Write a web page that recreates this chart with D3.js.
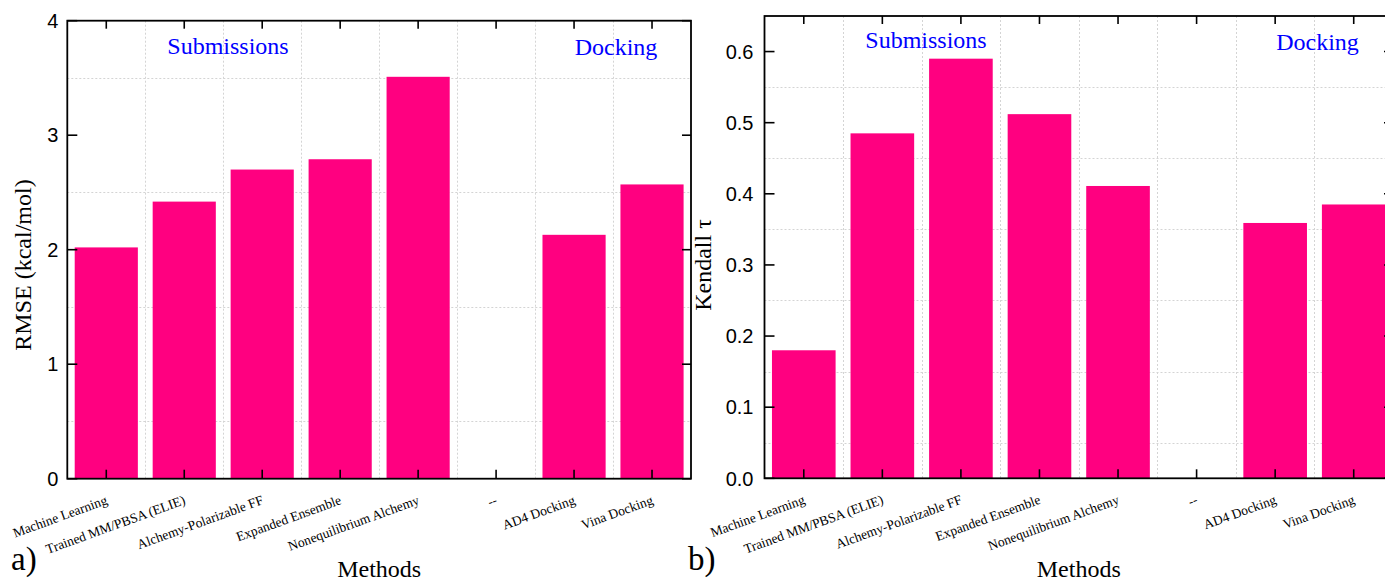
<!DOCTYPE html>
<html>
<head>
<meta charset="utf-8">
<script src="https://cdn.jsdelivr.net/npm/d3@7/dist/d3.min.js"></script>
<style>
  html, body { margin: 0; padding: 0; background: #ffffff; }
  svg { display: block; }
  .serif { font-family: "Liberation Serif", "Times New Roman", "DejaVu Serif", serif; }
  .sans { font-family: "Liberation Sans", Arial, "DejaVu Sans", sans-serif; }
</style>
</head>
<body>
<svg id="chart" width="1385" height="583"></svg>
<script>
// Method categories shared by both panels ("--" is an empty spacer slot)
const categories = [
  "Machine Learning",
  "Trained MM/PBSA (ELIE)",
  "Alchemy-Polarizable FF",
  "Expanded Ensemble",
  "Nonequilibrium Alchemy",
  "--",
  "AD4 Docking",
  "Vina Docking"
];

// Panel a: RMSE (kcal/mol) per method
const rmseValues = [2.02, 2.42, 2.70, 2.79, 3.51, null, 2.13, 2.57];
const rmseTicks = [0, 1, 2, 3, 4];
const rmseTickLabels = ["0", "1", "2", "3", "4"];
const rmseMinor = [0.5, 1.5, 2.5, 3.5];

// Panel b: Kendall tau per method
const kendallValues = [0.18, 0.485, 0.59, 0.512, 0.411, null, 0.359, 0.385];
const kendallTicks = [0, 0.1, 0.2, 0.3, 0.4, 0.5, 0.6];
const kendallTickLabels = ["0.0", "0.1", "0.2", "0.3", "0.4", "0.5", "0.6"];
const kendallMinor = [0.05, 0.15, 0.25, 0.35, 0.45, 0.55];

const BAR_COLOR = "#ff0080";

const svg = d3.select("#chart");

function drawPanel(cfg) {
  const g = svg.append("g");
  const x = d3.scaleBand()
    .domain(categories)
    .range([cfg.left, cfg.right])
    .paddingInner(0.19)
    .paddingOuter(0.095);
  const y = d3.scaleLinear().domain(cfg.domain).range([cfg.bottom, cfg.top]);
  const step = x.step();
  const center = c => x(c) + x.bandwidth() / 2;

  // dotted grid: vertical at slot boundaries, horizontal at half steps
  const grid = g.append("g")
    .attr("stroke", "#d4d4d4")
    .attr("stroke-width", 1)
    .attr("stroke-dasharray", "2,2");
  d3.range(1, categories.length).forEach(i => {
    const gx = Math.round(cfg.left + i * step) + 0.5;
    grid.append("line")
      .attr("x1", gx).attr("x2", gx)
      .attr("y1", cfg.top).attr("y2", cfg.bottom);
  });
  cfg.minor.forEach(v => {
    const gy = Math.round(y(v)) + 0.5;
    grid.append("line")
      .attr("x1", cfg.left).attr("x2", cfg.right)
      .attr("y1", gy).attr("y2", gy);
  });

  // bars
  g.append("g").selectAll("rect")
    .data(categories.map((c, i) => ({ c, v: cfg.values[i] })).filter(d => d.v != null))
    .join("rect")
    .attr("x", d => x(d.c))
    .attr("width", x.bandwidth())
    .attr("y", d => y(d.v))
    .attr("height", d => y(0) - y(d.v))
    .attr("fill", BAR_COLOR);

  // frame
  g.append("rect")
    .attr("x", cfg.left).attr("y", cfg.top)
    .attr("width", cfg.right - cfg.left)
    .attr("height", cfg.bottom - cfg.top)
    .attr("fill", "none")
    .attr("stroke", "#000")
    .attr("stroke-width", 1.8);

  const ticks = g.append("g").attr("stroke", "#000").attr("stroke-width", 1.6);
  // category ticks on bottom and top, pointing inward
  categories.forEach(c => {
    const cx = center(c);
    ticks.append("line").attr("x1", cx).attr("x2", cx)
      .attr("y1", cfg.bottom).attr("y2", cfg.bottom - 9);
    ticks.append("line").attr("x1", cx).attr("x2", cx)
      .attr("y1", cfg.top).attr("y2", cfg.top + 8);
  });
  // value ticks on left and right, pointing inward
  cfg.ticks.forEach(v => {
    const ty = y(v);
    ticks.append("line").attr("x1", cfg.left).attr("x2", cfg.left + 10)
      .attr("y1", ty).attr("y2", ty);
    ticks.append("line").attr("x1", cfg.right).attr("x2", cfg.right - 9)
      .attr("y1", ty).attr("y2", ty);
  });

  // value tick labels
  g.append("g").selectAll("text")
    .data(cfg.ticks)
    .join("text")
    .attr("class", "sans")
    .attr("x", cfg.left - cfg.tickGap)
    .attr("y", v => y(v))
    .attr("dy", "0.36em")
    .attr("text-anchor", "end")
    .style("font-size", "20px")
    .attr("fill", "#000")
    .text((v, i) => cfg.tickLabels[i]);

  // slanted category labels
  g.append("g").selectAll("text")
    .data(categories)
    .join("text")
    .attr("class", "serif")
    .attr("transform", c => `translate(${center(c) + 2},${cfg.bottom + 25}) rotate(-20)`)
    .attr("text-anchor", "end")
    .style("font-size", "13.5px")
    .attr("fill", "#000")
    .text(c => c);

  // axis titles
  g.append("text")
    .attr("class", "serif")
    .attr("x", (cfg.left + cfg.right) / 2)
    .attr("y", 577)
    .attr("text-anchor", "middle")
    .style("font-size", "24px")
    .attr("fill", "#000")
    .text("Methods");

  g.append("text")
    .attr("class", "serif")
    .attr("transform", `translate(${cfg.yTitleX},${265}) rotate(-90)`)
    .attr("text-anchor", "middle")
    .style("font-size", "24px")
    .attr("fill", "#000")
    .text(cfg.yTitle);

  // group annotations
  cfg.notes.forEach(n => {
    g.append("text")
      .attr("class", "serif")
      .attr("x", n.x).attr("y", n.y)
      .attr("text-anchor", "middle")
      .style("font-size", "24px")
      .attr("fill", "#0000ff")
      .text(n.text);
  });

  // panel letter
  g.append("text")
    .attr("class", "serif")
    .attr("x", cfg.letterX).attr("y", 570)
    .style("font-size", "33px")
    .attr("fill", "#000")
    .text(cfg.letter);
}

drawPanel({
  left: 67.3, right: 691, top: 20.7, bottom: 478.7,
  domain: [0, 4],
  values: rmseValues,
  ticks: rmseTicks, tickLabels: rmseTickLabels, minor: rmseMinor,
  tickGap: 9,
  yTitle: "RMSE (kcal/mol)", yTitleX: 31,
  notes: [
    { text: "Submissions", x: 228, y: 54 },
    { text: "Docking", x: 616, y: 55 }
  ],
  letter: "a)", letterX: 11
});

drawPanel({
  left: 764.5, right: 1393, top: 16, bottom: 478.3,
  domain: [0, 0.65],
  values: kendallValues,
  ticks: kendallTicks, tickLabels: kendallTickLabels, minor: kendallMinor,
  tickGap: 11,
  yTitle: "Kendall \u03c4", yTitleX: 711,
  notes: [
    { text: "Submissions", x: 926, y: 48 },
    { text: "Docking", x: 1317.5, y: 50 }
  ],
  letter: "b)", letterX: 688
});
</script>
</body>
</html>
